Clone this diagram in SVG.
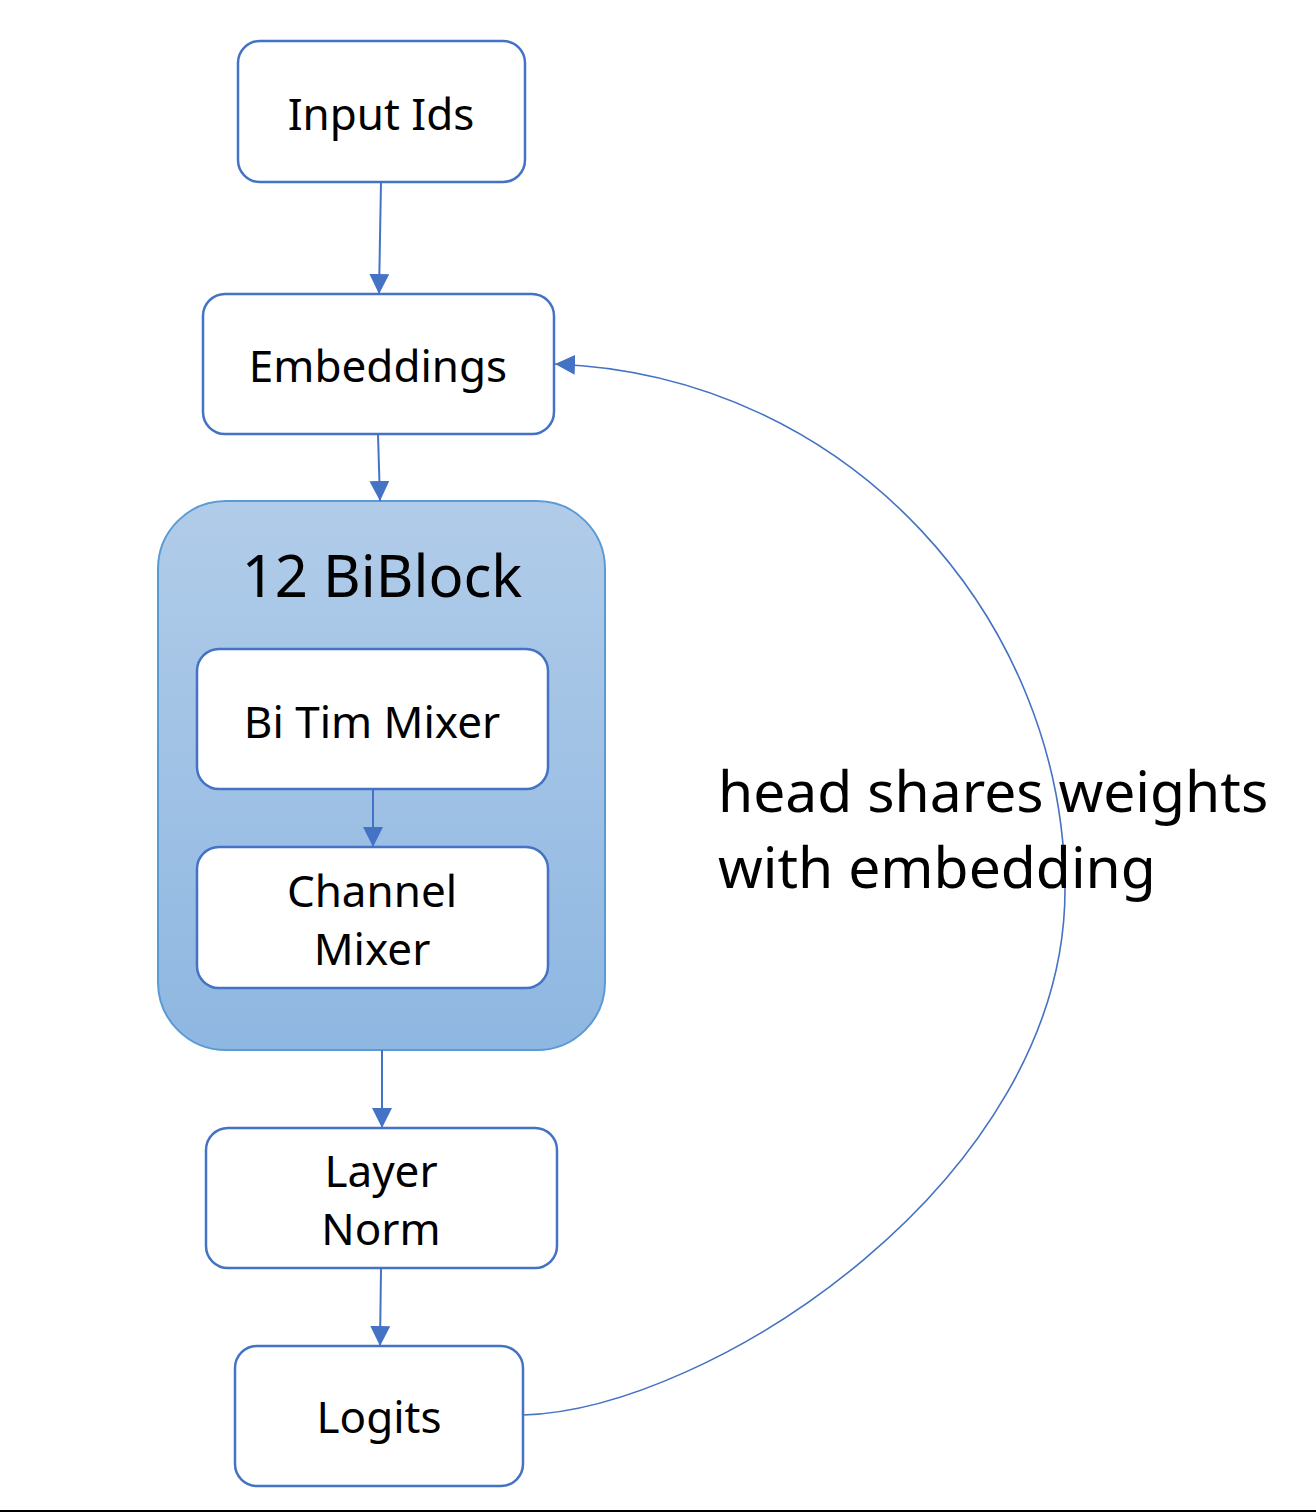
<svg xmlns="http://www.w3.org/2000/svg" width="1316" height="1512" viewBox="0 0 1316 1512">
  <style>
    .box { fill: #ffffff; stroke: #4472C4; stroke-width: 2.5; }
    .lbl { font-family: "Noto Sans", "Open Sans", sans-serif; font-size: 44px; fill: #000000; text-anchor: middle; }
    .big { font-family: "Noto Sans", "Open Sans", sans-serif; font-size: 58px; fill: #000000; text-anchor: middle; }
    .note { font-family: "Noto Sans", "Open Sans", sans-serif; font-size: 57px; fill: #000000; }
    .conn { fill: none; stroke: #4472C4; stroke-width: 2; marker-end: url(#arr); }
    .curve { fill: none; stroke: #4472C4; stroke-width: 1.6; marker-end: url(#arr); }
  </style>
  <defs>
    <linearGradient id="blk" x1="0" y1="0" x2="0" y2="1">
      <stop offset="0" stop-color="#B1CCE9"/>
      <stop offset="1" stop-color="#8EB7E1"/>
    </linearGradient>
    <marker id="arr" markerUnits="userSpaceOnUse" markerWidth="20" markerHeight="20" viewBox="0 0 20 20" refX="20" refY="10" orient="auto">
      <path d="M0,0 L20,10 L0,20 Z" fill="#4472C4"/>
    </marker>
  </defs>
  <rect x="0" y="0" width="1316" height="1512" fill="#ffffff"/>

  <g id="input-ids">
    <rect class="box" x="238" y="41" width="287" height="141" rx="22"/>
    <text class="lbl" x="381" y="130">Input Ids</text>
  </g>
  <g id="embeddings">
    <rect class="box" x="203" y="294" width="351" height="140" rx="22"/>
    <text class="lbl" x="378" y="382">Embeddings</text>
  </g>
  <g id="biblock">
    <rect x="158" y="501" width="447" height="549" rx="68" fill="url(#blk)" stroke="#5B9BD5" stroke-width="2"/>
    <text class="big" x="382" y="597">12 BiBlock</text>
  </g>
  <g id="bi-tim-mixer">
    <rect class="box" x="197" y="649" width="351" height="140" rx="22"/>
    <text class="lbl" x="372" y="738">Bi Tim Mixer</text>
  </g>
  <g id="channel-mixer">
    <rect class="box" x="197" y="847" width="351" height="141" rx="22"/>
    <text class="lbl" x="372" y="907">Channel</text>
    <text class="lbl" x="372" y="965">Mixer</text>
  </g>
  <g id="layer-norm">
    <rect class="box" x="206" y="1128" width="351" height="140" rx="22"/>
    <text class="lbl" x="381" y="1187">Layer</text>
    <text class="lbl" x="381" y="1245">Norm</text>
  </g>
  <g id="logits">
    <rect class="box" x="235" y="1346" width="288" height="140" rx="22"/>
    <text class="lbl" x="379" y="1433">Logits</text>
  </g>

  <g id="connectors">
    <path class="conn" d="M381,182 L379,294"/>
    <path class="conn" d="M378,434 L380,501"/>
    <path class="conn" d="M373,789 L373,847"/>
    <path class="conn" d="M382,1050 L382,1128"/>
    <path class="conn" d="M381,1268 L380,1346"/>
    <path class="curve" d="M523,1415 C710,1410 1065,1180 1065,890 C1065,620 850,375 555,364"/>
  </g>

  <g id="note">
    <text class="note" x="718" y="812">head shares weights</text>
    <text class="note" x="718" y="888">with embedding</text>
  </g>

  <rect x="0" y="1510" width="1316" height="2" fill="#000000"/>
</svg>
